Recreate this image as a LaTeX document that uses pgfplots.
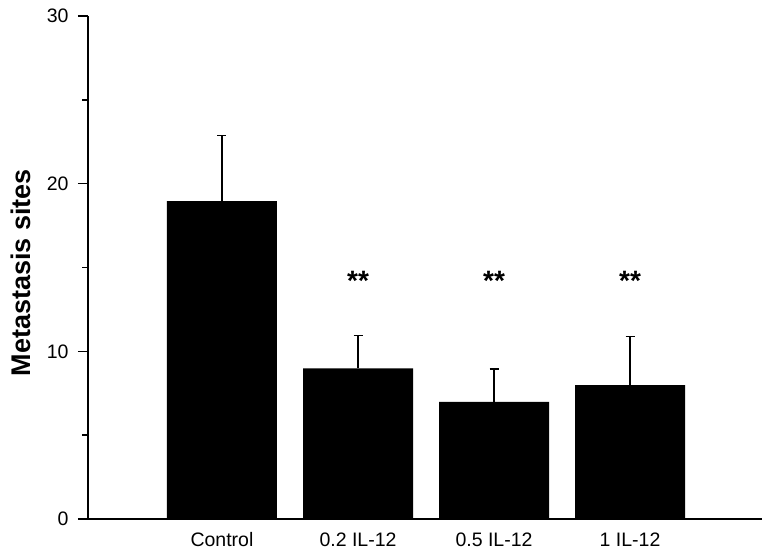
\documentclass[border=0pt]{standalone}
\usepackage{pgfplots}
\pgfplotsset{compat=1.18}
\usepackage{fontspec}
\setmainfont{Liberation Sans}
\begin{document}
\begin{tikzpicture}
\begin{axis}[
  scale only axis, width=674pt, height=503pt,
  xmin=-0.985, xmax=3.97, ymin=0, ymax=30,
  axis lines*=left,
  axis line style={line width=1.5pt, black},
  ytick={0,10,20,30}, minor ytick={5,15,25},
  yticklabel={\fontsize{19.5}{22}\selectfont\pgfmathprintnumber[assume math mode=true]{\tick}},
  yticklabel style={xshift=-6pt},
  xtick={0,1,2,3}, xticklabels={Control,0.2 IL-12,0.5 IL-12,1 IL-12},
  x tick style={draw=none},
  y tick style={line width=1.5pt, black},
  tick align=outside,
  major tick length=10pt, minor tick length=5.5pt,
  tick label style={font=\fontsize{19.5}{22}\selectfont},
  /pgf/number format/assume math mode=true,
  ylabel={Metastasis sites},
  ylabel style={font=\fontsize{27}{32}\selectfont\bfseries, at={(axis description cs:-0.0994,0.49)}, anchor=center},
  clip=false,
]
\addplot[ybar, fill=black, draw=none, bar width=110pt,
  error bars/.cd, y dir=plus, y explicit,
  error bar style={line width=1.5pt, black},
  error mark options={rotate=90, mark size=4.5pt, line width=1.5pt, black}]
  coordinates {(0,18.96) +- (0,3.9) (1,8.99) +- (0,1.95) (2,6.98) +- (0,1.96) (3,7.99) +- (0,2.9)};
\node[font=\fontsize{28}{32}\selectfont\bfseries, anchor=base] at (axis cs:1,13.6) {**};
\node[font=\fontsize{28}{32}\selectfont\bfseries, anchor=base] at (axis cs:2,13.6) {**};
\node[font=\fontsize{28}{32}\selectfont\bfseries, anchor=base] at (axis cs:3,13.6) {**};
\path ([xshift=-88pt,yshift=-38pt]rel axis cs:0,0) rectangle ([xshift=10pt,yshift=16pt]rel axis cs:1,1);
\end{axis}
\end{tikzpicture}
\end{document}
